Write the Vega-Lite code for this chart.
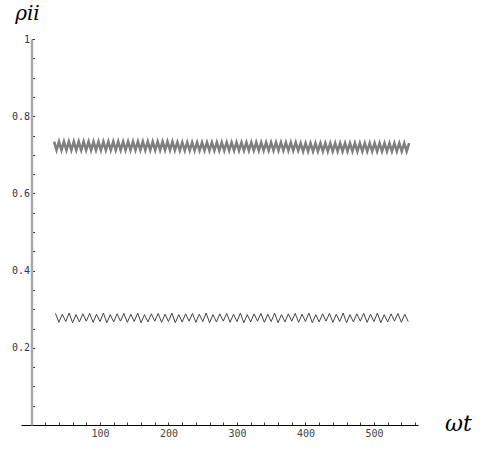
{
  "$schema": "https://vega.github.io/schema/vega-lite/v6.json",
  "width": 397,
  "height": 386,
  "autosize": "none",
  "padding": {"left": 21, "top": 39, "right": 66, "bottom": 25},
  "background": "white",
  "config": {"view": {"stroke": null}, "axis": {"grid": false}},
  "datasets": {
    "a": [
      {"t":33,"p":0.734},{"t":36.6,"p":0.712},{"t":40.2,"p":0.734},{"t":43.8,"p":0.712},{"t":47.4,"p":0.734},
      {"t":51,"p":0.712},{"t":54.6,"p":0.734},{"t":58.2,"p":0.712},{"t":61.8,"p":0.734},{"t":65.4,"p":0.712},
      {"t":69,"p":0.734},{"t":72.6,"p":0.712},{"t":76.2,"p":0.734},{"t":79.8,"p":0.712},{"t":83.4,"p":0.734},
      {"t":87,"p":0.712},{"t":90.6,"p":0.734},{"t":94.2,"p":0.712},{"t":97.8,"p":0.734},{"t":101.4,"p":0.712},
      {"t":105,"p":0.734},{"t":108.6,"p":0.712},{"t":112.2,"p":0.734},{"t":115.8,"p":0.712},{"t":119.4,"p":0.734},
      {"t":123,"p":0.712},{"t":126.6,"p":0.734},{"t":130.2,"p":0.712},{"t":133.8,"p":0.734},{"t":137.4,"p":0.712},
      {"t":141,"p":0.734},{"t":144.6,"p":0.712},{"t":148.2,"p":0.734},{"t":151.8,"p":0.712},{"t":155.4,"p":0.734},
      {"t":159,"p":0.712},{"t":162.6,"p":0.734},{"t":166.2,"p":0.712},{"t":169.8,"p":0.734},{"t":173.4,"p":0.712},
      {"t":177,"p":0.734},{"t":180.6,"p":0.712},{"t":184.2,"p":0.734},{"t":187.8,"p":0.712},{"t":191.4,"p":0.734},
      {"t":195,"p":0.712},{"t":198.6,"p":0.734},{"t":202.2,"p":0.712},{"t":205.8,"p":0.734},{"t":209.4,"p":0.712},
      {"t":213,"p":0.732},{"t":216.6,"p":0.711},{"t":220.2,"p":0.732},{"t":223.8,"p":0.711},{"t":227.4,"p":0.732},
      {"t":231,"p":0.711},{"t":234.6,"p":0.732},{"t":238.2,"p":0.711},{"t":241.8,"p":0.732},{"t":245.4,"p":0.711},
      {"t":249,"p":0.732},{"t":252.6,"p":0.711},{"t":256.2,"p":0.732},{"t":259.8,"p":0.711},{"t":263.4,"p":0.732},
      {"t":267,"p":0.711},{"t":270.6,"p":0.732},{"t":274.2,"p":0.711},{"t":277.8,"p":0.732},{"t":281.4,"p":0.711},
      {"t":285,"p":0.732},{"t":288.6,"p":0.711},{"t":292.2,"p":0.732},{"t":295.8,"p":0.711},{"t":299.4,"p":0.732},
      {"t":303,"p":0.711},{"t":306.6,"p":0.732},{"t":310.2,"p":0.711},{"t":313.8,"p":0.732},{"t":317.4,"p":0.711},
      {"t":321,"p":0.732},{"t":324.6,"p":0.711},{"t":328.2,"p":0.732},{"t":331.8,"p":0.711},{"t":335.4,"p":0.732},
      {"t":339,"p":0.711},{"t":342.6,"p":0.732},{"t":346.2,"p":0.711},{"t":349.8,"p":0.732},{"t":353.4,"p":0.711},
      {"t":357,"p":0.732},{"t":360.6,"p":0.711},{"t":364.2,"p":0.732},{"t":367.8,"p":0.711},{"t":371.4,"p":0.732},
      {"t":375,"p":0.711},{"t":378.6,"p":0.732},{"t":382.2,"p":0.711},{"t":385.8,"p":0.732},{"t":389.4,"p":0.711},
      {"t":393,"p":0.730},{"t":396.6,"p":0.709},{"t":400.2,"p":0.730},{"t":403.8,"p":0.709},{"t":407.4,"p":0.730},
      {"t":411,"p":0.709},{"t":414.6,"p":0.730},{"t":418.2,"p":0.709},{"t":421.8,"p":0.730},{"t":425.4,"p":0.709},
      {"t":429,"p":0.730},{"t":432.6,"p":0.709},{"t":436.2,"p":0.730},{"t":439.8,"p":0.709},{"t":443.4,"p":0.730},
      {"t":447,"p":0.709},{"t":450.6,"p":0.730},{"t":454.2,"p":0.709},{"t":457.8,"p":0.730},{"t":461.4,"p":0.709},
      {"t":465,"p":0.730},{"t":468.6,"p":0.709},{"t":472.2,"p":0.730},{"t":475.8,"p":0.709},{"t":479.4,"p":0.730},
      {"t":483,"p":0.709},{"t":486.6,"p":0.730},{"t":490.2,"p":0.709},{"t":493.8,"p":0.730},{"t":497.4,"p":0.709},
      {"t":501,"p":0.730},{"t":504.6,"p":0.709},{"t":508.2,"p":0.730},{"t":511.8,"p":0.709},{"t":515.4,"p":0.730},
      {"t":519,"p":0.709},{"t":522.6,"p":0.730},{"t":526.2,"p":0.709},{"t":529.8,"p":0.730},{"t":533.4,"p":0.709},
      {"t":537,"p":0.730},{"t":540.6,"p":0.709},{"t":544.2,"p":0.730},{"t":547.8,"p":0.709},{"t":551.4,"p":0.730}
    ],
    "b": [
      {"t":35,"p":0.289},{"t":40,"p":0.266},{"t":45,"p":0.287},{"t":50,"p":0.268},{"t":55,"p":0.290},{"t":60,"p":0.265},{"t":65,"p":0.286},{"t":70,"p":0.267},{"t":75,"p":0.288},{"t":80,"p":0.269},
      {"t":85,"p":0.289},{"t":90,"p":0.266},{"t":95,"p":0.287},{"t":100,"p":0.268},{"t":105,"p":0.290},{"t":110,"p":0.265},{"t":115,"p":0.286},{"t":120,"p":0.267},{"t":125,"p":0.288},{"t":130,"p":0.269},
      {"t":135,"p":0.289},{"t":140,"p":0.266},{"t":145,"p":0.287},{"t":150,"p":0.268},{"t":155,"p":0.290},{"t":160,"p":0.265},{"t":165,"p":0.286},{"t":170,"p":0.267},{"t":175,"p":0.288},{"t":180,"p":0.269},
      {"t":185,"p":0.289},{"t":190,"p":0.266},{"t":195,"p":0.287},{"t":200,"p":0.268},{"t":205,"p":0.290},{"t":210,"p":0.265},{"t":215,"p":0.286},{"t":220,"p":0.267},{"t":225,"p":0.288},{"t":230,"p":0.269},
      {"t":235,"p":0.289},{"t":240,"p":0.266},{"t":245,"p":0.287},{"t":250,"p":0.268},{"t":255,"p":0.290},{"t":260,"p":0.265},{"t":265,"p":0.286},{"t":270,"p":0.267},{"t":275,"p":0.288},{"t":280,"p":0.269},
      {"t":285,"p":0.289},{"t":290,"p":0.266},{"t":295,"p":0.287},{"t":300,"p":0.268},{"t":305,"p":0.290},{"t":310,"p":0.265},{"t":315,"p":0.286},{"t":320,"p":0.267},{"t":325,"p":0.288},{"t":330,"p":0.269},
      {"t":335,"p":0.289},{"t":340,"p":0.266},{"t":345,"p":0.287},{"t":350,"p":0.268},{"t":355,"p":0.290},{"t":360,"p":0.265},{"t":365,"p":0.286},{"t":370,"p":0.267},{"t":375,"p":0.288},{"t":380,"p":0.269},
      {"t":385,"p":0.289},{"t":390,"p":0.266},{"t":395,"p":0.287},{"t":400,"p":0.268},{"t":405,"p":0.290},{"t":410,"p":0.265},{"t":415,"p":0.286},{"t":420,"p":0.267},{"t":425,"p":0.288},{"t":430,"p":0.269},
      {"t":435,"p":0.289},{"t":440,"p":0.266},{"t":445,"p":0.287},{"t":450,"p":0.268},{"t":455,"p":0.290},{"t":460,"p":0.265},{"t":465,"p":0.286},{"t":470,"p":0.267},{"t":475,"p":0.288},{"t":480,"p":0.269},
      {"t":485,"p":0.289},{"t":490,"p":0.266},{"t":495,"p":0.287},{"t":500,"p":0.268},{"t":505,"p":0.290},{"t":510,"p":0.265},{"t":515,"p":0.286},{"t":520,"p":0.267},{"t":525,"p":0.288},{"t":530,"p":0.269},
      {"t":535,"p":0.289},{"t":540,"p":0.266},{"t":545,"p":0.287},{"t":550,"p":0.268}
    ]
  },
  "encoding": {
    "x": {
      "field": "t", "type": "quantitative",
      "scale": {"domain": [-15.3, 564.3], "nice": false, "zero": false},
      "axis": {
        "values": [20,40,60,80,100,120,140,160,180,200,220,240,260,280,300,320,340,360,380,400,420,440,460,480,500,520,540,560],
        "labelExpr": "datum.value % 100 === 0 ? datum.value : ''",
        "labelFont": "DejaVu Sans Mono", "labelFontSize": 10, "labelColor": "#444444",
        "labelPadding": 6,
        "domainColor": "#000000", "domainWidth": 1.2,
        "tickColor": "#333333", "tickWidth": 1,
        "tickSize": -3,
        "title": "ωt",
        "titleFont": "DejaVu Serif", "titleFontStyle": "italic", "titleFontWeight": "normal", "titleFontSize": 22, "titleColor": "#000000",
        "titleX": 437, "titleY": -2, "titleAlign": "center", "titleBaseline": "middle"
      }
    },
    "y": {
      "field": "p", "type": "quantitative",
      "scale": {"domain": [0, 1], "nice": false},
      "axis": {
        "values": [0.05,0.1,0.15,0.2,0.25,0.3,0.35,0.4,0.45,0.5,0.55,0.6,0.65,0.7,0.75,0.8,0.85,0.9,0.95,1],
        "labelExpr": "round(datum.value*20) % 4 === 0 ? format(datum.value, '.1~f') : ''",
        "labelFont": "DejaVu Sans Mono", "labelFontSize": 10, "labelColor": "#2b3550",
        "labelPadding": 5,
        "offset": -10.5,
        "domainColor": "#a8a8a8", "domainWidth": 2.5,
        "tickColor": "#333333", "tickWidth": 1,
        "tickSize": -3,
        "title": "ρii",
        "titleFont": "DejaVu Serif", "titleFontStyle": "italic", "titleFontWeight": "normal", "titleFontSize": 20, "titleColor": "#000000",
        "titleAngle": 0, "titleX": -4.5, "titleY": -20, "titleAlign": "center", "titleBaseline": "alphabetic"
      }
    }
  },
  "layer": [
    {"data": {"name": "a"}, "mark": {"type": "line", "color": "#7f7f7f", "strokeWidth": 2.6}},
    {"data": {"name": "b"}, "mark": {"type": "line", "color": "#444444", "strokeWidth": 1}}
  ]
}
